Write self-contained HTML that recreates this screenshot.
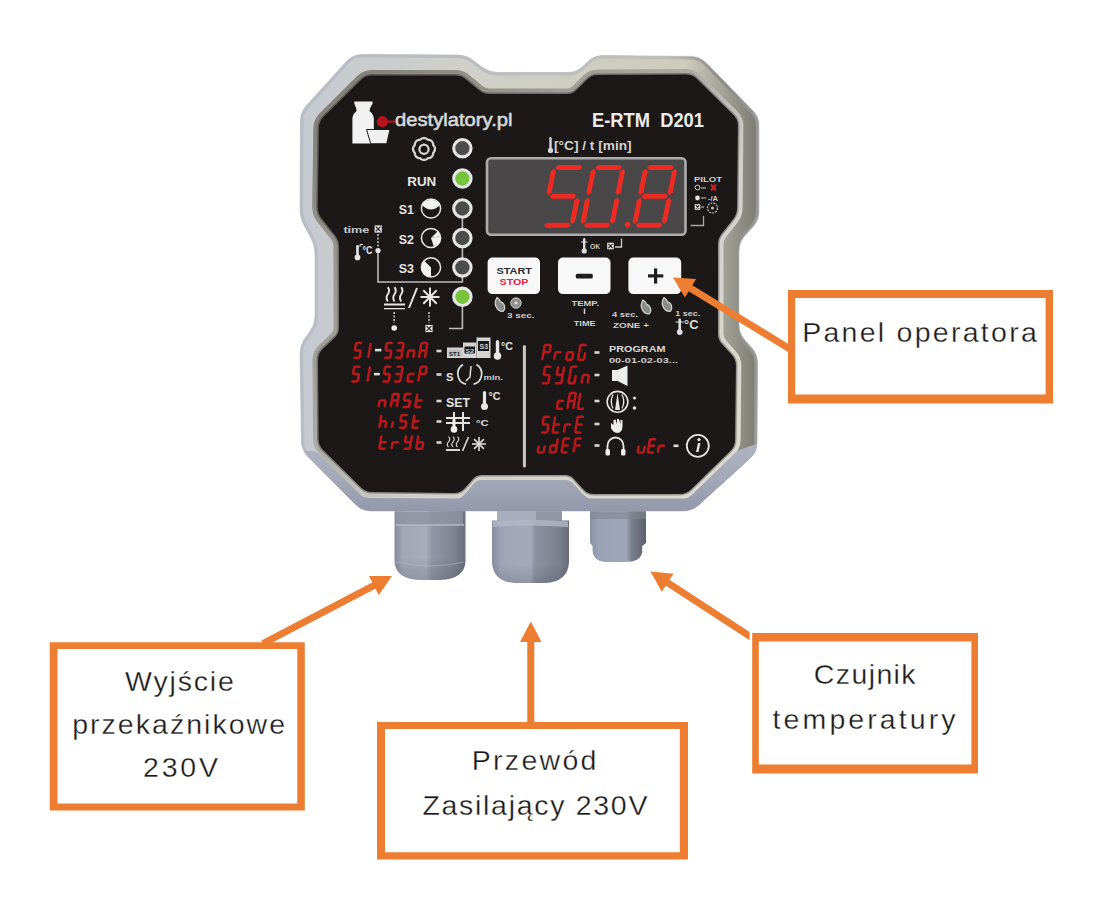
<!DOCTYPE html>
<html><head><meta charset="utf-8"><style>html,body{margin:0;padding:0;background:#fff;}svg{display:block;}</style></head>
<body><svg width="1100" height="897" viewBox="0 0 1100 897">
<rect x="0" y="0" width="1100" height="897" fill="#ffffff"/>
<defs><linearGradient id="gl1" x1="0" y1="0" x2="1" y2="0"><stop offset="0" stop-color="#868c9c"/><stop offset="0.12" stop-color="#a2a7b6"/><stop offset="0.45" stop-color="#a7acbb"/><stop offset="0.52" stop-color="#9197a6"/><stop offset="0.85" stop-color="#7f8391"/><stop offset="1" stop-color="#6a6e7b"/></linearGradient><linearGradient id="gl2" x1="0" y1="0" x2="1" y2="0"><stop offset="0" stop-color="#878d9e"/><stop offset="0.12" stop-color="#9fa5b6"/><stop offset="0.5" stop-color="#a4aabb"/><stop offset="0.56" stop-color="#8d92a2"/><stop offset="0.88" stop-color="#7b808e"/><stop offset="1" stop-color="#686c79"/></linearGradient><linearGradient id="gl3" x1="0" y1="0" x2="1" y2="0"><stop offset="0" stop-color="#8890a2"/><stop offset="0.15" stop-color="#9aa2b5"/><stop offset="0.65" stop-color="#9ea6b8"/><stop offset="0.74" stop-color="#7b808d"/><stop offset="1" stop-color="#5e616c"/></linearGradient><linearGradient id="gsh" x1="0" y1="0" x2="0" y2="1"><stop offset="0" stop-color="#000" stop-opacity="0"/><stop offset="0.7" stop-color="#000" stop-opacity="0"/><stop offset="1" stop-color="#000" stop-opacity="0.12"/></linearGradient></defs>
<path d="M394.5,505 L465.5,505 L465.5,561 Q465,579 440,580 L420,580 Q395,579 394.5,561 Z" fill="url(#gl1)"/>
<path d="M394.5,505 L465.5,505 L465.5,561 Q465,579 440,580 L420,580 Q395,579 394.5,561 Z" fill="url(#gsh)"/>
<path d="M397,512 L463,512 L463,525 L397,525 Z" fill="#8e93a2" opacity="0.8"/>
<path d="M396,525 L464,525" stroke="#b3b8c6" stroke-width="1.5"/>
<path d="M396,562 Q430,570 464,562" fill="none" stroke="#b0b5c3" stroke-width="1" opacity="0.6"/>
<rect x="497" y="505" width="65" height="20" fill="#a9aebd"/>
<rect x="536" y="505" width="26" height="20" fill="#9196a5"/>
<path d="M492,520.5 L569,520.5 L569,562 Q568,582 545,583 L515,583 Q493,582 492,562 Z" fill="url(#gl2)"/>
<path d="M492,520.5 L569,520.5 L569,562 Q568,582 545,583 L515,583 Q493,582 492,562 Z" fill="url(#gsh)"/>
<path d="M493,521.5 Q530,518 568,521.5 L568,527 Q530,524 493,527 Z" fill="#b3b8c7" opacity="0.8"/>
<path d="M590,505 L646,505 L646,543 L642.2,546 L642.2,552 Q641,562 625,562 L605,562 Q593,561 592.6,550 L592.6,546 L590,543 Z" fill="url(#gl3)"/>
<rect x="590" y="505" width="56" height="14" fill="#80858f" opacity="0.6"/>
<defs><linearGradient id="hg" gradientUnits="userSpaceOnUse" x1="300" y1="0" x2="758" y2="0"><stop offset="0" stop-color="#c6c9d1"/><stop offset="0.35" stop-color="#cfd0c8"/><stop offset="0.84" stop-color="#cdccbc"/><stop offset="0.92" stop-color="#a5a49a"/><stop offset="1" stop-color="#7c7b72"/></linearGradient><linearGradient id="rg" gradientUnits="userSpaceOnUse" x1="300" y1="0" x2="758" y2="0"><stop offset="0" stop-color="#b9bdc8"/><stop offset="0.8" stop-color="#c0c0b4"/><stop offset="0.92" stop-color="#8c8b82"/><stop offset="1" stop-color="#9a9a96"/></linearGradient><linearGradient id="bg2" x1="0" y1="0" x2="0" y2="1"><stop offset="0" stop-color="#a9aebd"/><stop offset="1" stop-color="#8a90a3"/></linearGradient><linearGradient id="bv" gradientUnits="userSpaceOnUse" x1="320" y1="75" x2="737" y2="492"><stop offset="0" stop-color="#7e7c72"/><stop offset="0.45" stop-color="#aeaca6"/><stop offset="0.62" stop-color="#d2d2cc"/><stop offset="1" stop-color="#dcdcd0"/></linearGradient><linearGradient id="bg3" x1="0" y1="0" x2="0" y2="1"><stop offset="0" stop-color="#b0b5c3"/><stop offset="0.5" stop-color="#a2a7b7"/><stop offset="1" stop-color="#8d93a5"/></linearGradient><clipPath id="hc"><path d="M300.5,121.0 Q300.5,112.0 306.6,105.4 L346.9,61.1 Q353.0,54.5 362.0,54.5 L457.0,55.0 Q466.0,55.0 473.2,60.4 L481.8,67.1 Q489.0,72.5 498.0,72.5 L568.0,72.5 Q577.0,72.5 583.4,66.1 L587.6,61.9 Q594.0,55.5 603.0,55.6 L691.0,56.4 Q700.0,56.5 706.3,62.9 L752.7,110.6 Q759.0,117.0 759.0,126.0 L759.0,211.0 Q759.0,220.0 752.9,226.7 L745.1,235.3 Q739.0,242.0 739.0,251.0 L739.0,325.0 Q739.0,334.0 745.1,340.6 L751.4,347.4 Q757.5,354.0 757.5,363.0 L757.0,443.0 Q757.0,452.0 750.3,458.0 L698.7,505.0 Q692.0,511.0 683.0,511.0 L371.0,511.0 Q362.0,511.0 355.7,504.6 L307.8,456.4 Q301.5,450.0 301.4,441.0 L300.1,354.0 Q300.0,345.0 305.4,337.8 L309.6,332.2 Q315.0,325.0 315.0,316.0 L315.0,254.0 Q315.0,245.0 310.6,237.1 L304.4,225.9 Q300.0,218.0 300.0,209.0 Z"/></clipPath></defs>
<path d="M300.5,121.0 Q300.5,112.0 306.6,105.4 L346.9,61.1 Q353.0,54.5 362.0,54.5 L457.0,55.0 Q466.0,55.0 473.2,60.4 L481.8,67.1 Q489.0,72.5 498.0,72.5 L568.0,72.5 Q577.0,72.5 583.4,66.1 L587.6,61.9 Q594.0,55.5 603.0,55.6 L691.0,56.4 Q700.0,56.5 706.3,62.9 L752.7,110.6 Q759.0,117.0 759.0,126.0 L759.0,211.0 Q759.0,220.0 752.9,226.7 L745.1,235.3 Q739.0,242.0 739.0,251.0 L739.0,325.0 Q739.0,334.0 745.1,340.6 L751.4,347.4 Q757.5,354.0 757.5,363.0 L757.0,443.0 Q757.0,452.0 750.3,458.0 L698.7,505.0 Q692.0,511.0 683.0,511.0 L371.0,511.0 Q362.0,511.0 355.7,504.6 L307.8,456.4 Q301.5,450.0 301.4,441.0 L300.1,354.0 Q300.0,345.0 305.4,337.8 L309.6,332.2 Q315.0,325.0 315.0,316.0 L315.0,254.0 Q315.0,245.0 310.6,237.1 L304.4,225.9 Q300.0,218.0 300.0,209.0 Z" fill="url(#hg)"/>
<path d="M300.5,121.0 Q300.5,112.0 306.6,105.4 L346.9,61.1 Q353.0,54.5 362.0,54.5 L457.0,55.0 Q466.0,55.0 473.2,60.4 L481.8,67.1 Q489.0,72.5 498.0,72.5 L568.0,72.5 Q577.0,72.5 583.4,66.1 L587.6,61.9 Q594.0,55.5 603.0,55.6 L691.0,56.4 Q700.0,56.5 706.3,62.9 L752.7,110.6 Q759.0,117.0 759.0,126.0 L759.0,211.0 Q759.0,220.0 752.9,226.7 L745.1,235.3 Q739.0,242.0 739.0,251.0 L739.0,325.0 Q739.0,334.0 745.1,340.6 L751.4,347.4 Q757.5,354.0 757.5,363.0 L757.0,443.0 Q757.0,452.0 750.3,458.0 L698.7,505.0 Q692.0,511.0 683.0,511.0 L371.0,511.0 Q362.0,511.0 355.7,504.6 L307.8,456.4 Q301.5,450.0 301.4,441.0 L300.1,354.0 Q300.0,345.0 305.4,337.8 L309.6,332.2 Q315.0,325.0 315.0,316.0 L315.0,254.0 Q315.0,245.0 310.6,237.1 L304.4,225.9 Q300.0,218.0 300.0,209.0 Z" fill="none" stroke="url(#rg)" stroke-width="6" clip-path="url(#hc)"/>
<polygon points="296,448 358,499 696,499 762,440 762,520 296,520" fill="url(#bg2)" clip-path="url(#hc)"/>
<path d="M300.5,121.0 Q300.5,112.0 306.6,105.4 L346.9,61.1 Q353.0,54.5 362.0,54.5 L457.0,55.0 Q466.0,55.0 473.2,60.4 L481.8,67.1 Q489.0,72.5 498.0,72.5 L568.0,72.5 Q577.0,72.5 583.4,66.1 L587.6,61.9 Q594.0,55.5 603.0,55.6 L691.0,56.4 Q700.0,56.5 706.3,62.9 L752.7,110.6 Q759.0,117.0 759.0,126.0 L759.0,211.0 Q759.0,220.0 752.9,226.7 L745.1,235.3 Q739.0,242.0 739.0,251.0 L739.0,325.0 Q739.0,334.0 745.1,340.6 L751.4,347.4 Q757.5,354.0 757.5,363.0 L757.0,443.0 Q757.0,452.0 750.3,458.0 L698.7,505.0 Q692.0,511.0 683.0,511.0 L371.0,511.0 Q362.0,511.0 355.7,504.6 L307.8,456.4 Q301.5,450.0 301.4,441.0 L300.1,354.0 Q300.0,345.0 305.4,337.8 L309.6,332.2 Q315.0,325.0 315.0,316.0 L315.0,254.0 Q315.0,245.0 310.6,237.1 L304.4,225.9 Q300.0,218.0 300.0,209.0 Z" fill="none" stroke="#b4b7bf" stroke-width="1" opacity="0.6"/>
<path d="M319.9,128.0 Q320.0,122.0 324.3,117.8 L361.7,80.7 Q366.0,76.5 372.0,76.5 L455.0,76.5 Q461.0,76.5 465.6,80.4 L478.4,91.1 Q483.0,95.0 489.0,95.0 L567.0,95.0 Q573.0,95.0 577.2,90.8 L587.8,80.2 Q592.0,76.0 598.0,76.0 L686.0,75.5 Q692.0,75.5 696.3,79.7 L732.7,115.8 Q737.0,120.0 736.9,126.0 L736.1,208.0 Q736.0,214.0 732.3,218.7 L720.7,233.3 Q717.0,238.0 717.0,244.0 L717.0,334.0 Q717.0,340.0 721.0,344.5 L731.0,355.5 Q735.0,360.0 734.9,366.0 L734.1,440.0 Q734.0,446.0 729.7,450.2 L690.3,488.8 Q686.0,493.0 680.0,493.0 L594.0,493.0 Q588.0,493.0 584.0,488.5 L575.0,478.5 Q571.0,474.0 565.0,474.0 L482.0,474.0 Q476.0,474.0 472.0,478.5 L464.0,487.5 Q460.0,492.0 454.0,491.9 L372.0,491.1 Q366.0,491.0 361.7,486.8 L323.9,449.2 Q319.6,445.0 319.6,439.0 L319.0,360.0 Q319.0,354.0 323.3,349.9 L335.7,338.1 Q340.0,334.0 340.0,328.0 L340.0,246.0 Q340.0,240.0 336.3,235.3 L322.3,217.7 Q318.6,213.0 318.7,207.0 Z" fill="url(#bv)" stroke="url(#bv)" stroke-width="13" stroke-linejoin="round"/>
<path d="M319.9,128.0 Q320.0,122.0 324.3,117.8 L361.7,80.7 Q366.0,76.5 372.0,76.5 L455.0,76.5 Q461.0,76.5 465.6,80.4 L478.4,91.1 Q483.0,95.0 489.0,95.0 L567.0,95.0 Q573.0,95.0 577.2,90.8 L587.8,80.2 Q592.0,76.0 598.0,76.0 L686.0,75.5 Q692.0,75.5 696.3,79.7 L732.7,115.8 Q737.0,120.0 736.9,126.0 L736.1,208.0 Q736.0,214.0 732.3,218.7 L720.7,233.3 Q717.0,238.0 717.0,244.0 L717.0,334.0 Q717.0,340.0 721.0,344.5 L731.0,355.5 Q735.0,360.0 734.9,366.0 L734.1,440.0 Q734.0,446.0 729.7,450.2 L690.3,488.8 Q686.0,493.0 680.0,493.0 L594.0,493.0 Q588.0,493.0 584.0,488.5 L575.0,478.5 Q571.0,474.0 565.0,474.0 L482.0,474.0 Q476.0,474.0 472.0,478.5 L464.0,487.5 Q460.0,492.0 454.0,491.9 L372.0,491.1 Q366.0,491.0 361.7,486.8 L323.9,449.2 Q319.6,445.0 319.6,439.0 L319.0,360.0 Q319.0,354.0 323.3,349.9 L335.7,338.1 Q340.0,334.0 340.0,328.0 L340.0,246.0 Q340.0,240.0 336.3,235.3 L322.3,217.7 Q318.6,213.0 318.7,207.0 Z" fill="none" stroke="#1b1817" stroke-width="5" stroke-linejoin="round" opacity="0.35"/>
<path d="M296.0,455.0 Q296.0,451.0 300.0,451.0 L312.0,451.0 Q316.0,451.0 318.9,453.8 L361.1,495.2 Q364.0,498.0 368.0,498.0 L457.0,498.5 Q461.0,498.5 463.6,495.5 L474.4,483.0 Q477.0,480.0 481.0,480.0 L566.0,480.0 Q570.0,480.0 572.7,482.9 L584.3,495.6 Q587.0,498.5 591.0,498.5 L684.0,498.5 Q688.0,498.5 690.9,495.7 L734.1,453.8 Q737.0,451.0 740.8,449.6 L758.2,443.4 Q762.0,442.0 762.0,446.0 L762.0,516.0 Q762.0,520.0 758.0,520.0 L300.0,520.0 Q296.0,520.0 296.0,516.0 Z" fill="url(#bg3)" clip-path="url(#hc)"/>
<path d="M319.9,128.0 Q320.0,122.0 324.3,117.8 L361.7,80.7 Q366.0,76.5 372.0,76.5 L455.0,76.5 Q461.0,76.5 465.6,80.4 L478.4,91.1 Q483.0,95.0 489.0,95.0 L567.0,95.0 Q573.0,95.0 577.2,90.8 L587.8,80.2 Q592.0,76.0 598.0,76.0 L686.0,75.5 Q692.0,75.5 696.3,79.7 L732.7,115.8 Q737.0,120.0 736.9,126.0 L736.1,208.0 Q736.0,214.0 732.3,218.7 L720.7,233.3 Q717.0,238.0 717.0,244.0 L717.0,334.0 Q717.0,340.0 721.0,344.5 L731.0,355.5 Q735.0,360.0 734.9,366.0 L734.1,440.0 Q734.0,446.0 729.7,450.2 L690.3,488.8 Q686.0,493.0 680.0,493.0 L594.0,493.0 Q588.0,493.0 584.0,488.5 L575.0,478.5 Q571.0,474.0 565.0,474.0 L482.0,474.0 Q476.0,474.0 472.0,478.5 L464.0,487.5 Q460.0,492.0 454.0,491.9 L372.0,491.1 Q366.0,491.0 361.7,486.8 L323.9,449.2 Q319.6,445.0 319.6,439.0 L319.0,360.0 Q319.0,354.0 323.3,349.9 L335.7,338.1 Q340.0,334.0 340.0,328.0 L340.0,246.0 Q340.0,240.0 336.3,235.3 L322.3,217.7 Q318.6,213.0 318.7,207.0 Z" fill="#1b1817" stroke="#1b1817" stroke-width="2" stroke-linejoin="round"/>
<path d="M354.2,101.5 L372.6,101.5 L372.4,104 Q369.5,108 369.5,111 Q373.8,114 373.8,119 L373.8,143.5 L352.4,143.5 L352.4,119 Q352.4,114 356.6,111 Q356.6,108 354.4,104 Z" fill="#f2f2f2"/>
<path d="M366.5,129.5 L390,129.5 L386.7,143.8 L370.8,143.8 Z" fill="#f0f0f0" stroke="#1b1817" stroke-width="1"/>
<line x1="383" y1="121.6" x2="395" y2="121.6" stroke="#b3141b" stroke-width="2.2"/>
<circle cx="382.4" cy="121.6" r="5.6" fill="#b3141b"/>
<text x="395" y="125.5" font-family="Liberation Sans" font-size="19" fill="#d8d8d8" font-weight="normal" font-style="normal" text-anchor="start" textLength="117.5" lengthAdjust="spacingAndGlyphs" stroke="#d8d8d8" stroke-width="0.6">destylatory.pl</text>
<text x="592" y="126.7" font-family="Liberation Sans" font-size="19.5" fill="#ececec" font-weight="bold" font-style="normal" text-anchor="start" textLength="112" lengthAdjust="spacingAndGlyphs" >E-RTM&#160;&#160;D201</text>
<g fill="none" stroke="#d8d8d8" stroke-width="2.2"><polygon points="435.00,149.00 434.94,149.72 434.77,150.42 434.50,151.09 434.14,151.72 433.71,152.30 433.24,152.83 433.20,153.54 433.09,154.25 432.90,154.95 432.62,155.61 432.24,156.23 431.78,156.78 431.23,157.24 430.61,157.62 429.95,157.90 429.25,158.09 428.54,158.20 427.83,158.24 427.30,158.71 426.72,159.14 426.09,159.50 425.42,159.77 424.72,159.94 424.00,160.00 423.28,159.94 422.58,159.77 421.91,159.50 421.28,159.14 420.70,158.71 420.17,158.24 419.46,158.20 418.75,158.09 418.05,157.90 417.39,157.62 416.77,157.24 416.22,156.78 415.76,156.23 415.38,155.61 415.10,154.95 414.91,154.25 414.80,153.54 414.76,152.83 414.29,152.30 413.86,151.72 413.50,151.09 413.23,150.42 413.06,149.72 413.00,149.00 413.06,148.28 413.23,147.58 413.50,146.91 413.86,146.28 414.29,145.70 414.76,145.17 414.80,144.46 414.91,143.75 415.10,143.05 415.38,142.39 415.76,141.77 416.22,141.22 416.77,140.76 417.39,140.38 418.05,140.10 418.75,139.91 419.46,139.80 420.17,139.76 420.70,139.29 421.28,138.86 421.91,138.50 422.58,138.23 423.28,138.06 424.00,138.00 424.72,138.06 425.42,138.23 426.09,138.50 426.72,138.86 427.30,139.29 427.83,139.76 428.54,139.80 429.25,139.91 429.95,140.10 430.61,140.38 431.23,140.76 431.78,141.22 432.24,141.77 432.62,142.39 432.90,143.05 433.09,143.75 433.20,144.46 433.24,145.17 433.71,145.70 434.14,146.28 434.50,146.91 434.77,147.58 434.94,148.28"/><circle cx="424" cy="149.2" r="4.6"/></g>
<circle cx="424" cy="149.2" r="1.6" fill="#111"/>
<g stroke="#bdbdbd" stroke-width="1.6" fill="none"><polyline points="462.4,210 462.4,282 378,282 378,250"/><polyline points="462.4,300 462.4,328.5 449,328.5"/><line x1="378" y1="234" x2="378" y2="247" stroke-dasharray="2 1.5"/><line x1="394.2" y1="312" x2="394.2" y2="323" stroke-dasharray="2 1.5"/><line x1="429" y1="312" x2="429" y2="323" stroke-dasharray="2 1.5"/></g>
<circle cx="462.4" cy="148.2" r="8.7" fill="#4c4c4c" stroke="#e6e6e6" stroke-width="3.1"/>
<circle cx="462.4" cy="178.5" r="8.7" fill="#76c43a" stroke="#e6e6e6" stroke-width="3.1"/>
<circle cx="462.4" cy="208.5" r="8.7" fill="#4c4c4c" stroke="#e6e6e6" stroke-width="3.1"/>
<circle cx="462.4" cy="238" r="8.7" fill="#4c4c4c" stroke="#e6e6e6" stroke-width="3.1"/>
<circle cx="462.4" cy="267.4" r="8.7" fill="#4c4c4c" stroke="#e6e6e6" stroke-width="3.1"/>
<circle cx="462.4" cy="296.8" r="8.7" fill="#76c43a" stroke="#e6e6e6" stroke-width="3.1"/>
<text x="407.3" y="186.4" font-family="Liberation Sans" font-size="12.5" fill="#e6e6e6" font-weight="bold" font-style="normal" text-anchor="start" textLength="29" lengthAdjust="spacingAndGlyphs" >RUN</text>
<text x="398.7" y="214" font-family="Liberation Sans" font-size="13" fill="#e6e6e6" font-weight="bold" font-style="normal" text-anchor="start" textLength="15.2" lengthAdjust="spacingAndGlyphs" >S1</text>
<text x="398.7" y="243.5" font-family="Liberation Sans" font-size="13" fill="#e6e6e6" font-weight="bold" font-style="normal" text-anchor="start" textLength="15.2" lengthAdjust="spacingAndGlyphs" >S2</text>
<text x="398.7" y="273" font-family="Liberation Sans" font-size="13" fill="#e6e6e6" font-weight="bold" font-style="normal" text-anchor="start" textLength="15.2" lengthAdjust="spacingAndGlyphs" >S3</text>
<circle cx="431" cy="208.5" r="9.6" fill="none" stroke="#e6e6e6" stroke-width="1.5"/>
<path d="M421.8,206 L431,200 L440.2,206 Q431,203 421.8,206 Z" fill="#f0f0f0"/><path d="M422,205 Q431,214 440,205 L440,203 L431,199 L422,203 Z" fill="#f0f0f0"/>
<circle cx="431" cy="238" r="9.6" fill="none" stroke="#e6e6e6" stroke-width="1.5"/>
<path d="M431,238 L440.6,236 A9.6,9.6 0 0 1 434,247.2 Z" fill="#f0f0f0"/><path d="M431,238 L440.6,236 L438,231 Z" fill="#f0f0f0"/>
<circle cx="431" cy="267.4" r="9.6" fill="none" stroke="#e6e6e6" stroke-width="1.5"/>
<path d="M431,267.4 L424,260.6 A9.6,9.6 0 0 0 431,277 Z" fill="#f0f0f0"/>
<text x="343.4" y="232.6" font-family="Liberation Sans" font-size="9.5" fill="#c8c8c8" font-weight="bold" font-style="normal" text-anchor="start" textLength="26" lengthAdjust="spacingAndGlyphs" >time</text>
<rect x="374.59999999999997" y="225.4" width="7.2" height="7.2" fill="#e6e6e6"/><path d="M375.79999999999995,226.6 L380.6,231.4 M380.6,226.6 L375.79999999999995,231.4" stroke="#1b1817" stroke-width="1.1"/>
<rect x="356.2" y="245" width="2.6" height="12" rx="1.3" fill="#e6e6e6"/><circle cx="357.5" cy="257.4" r="2.8600000000000003" fill="#e6e6e6"/>
<polyline points="360,247 360,244.5 363,244.5" fill="none" stroke="#e6e6e6" stroke-width="1"/>
<text x="362.5" y="253.5" font-family="Liberation Sans" font-size="10.5" fill="#e6e6e6" font-weight="bold" font-style="normal" text-anchor="start" textLength="10" lengthAdjust="spacingAndGlyphs" >°C</text>
<circle cx="378" cy="250.5" r="2.6" fill="#eeeeee"/>
<path d="M387.8,301.5 q-2.5,-3.6 0,-7.2 q2.5,-3.6 0,-7.2" fill="none" stroke="#e6e6e6" stroke-width="1.9"/><path d="M394.5,301.5 q-2.5,-3.6 0,-7.2 q2.5,-3.6 0,-7.2" fill="none" stroke="#e6e6e6" stroke-width="1.9"/><path d="M401.2,301.5 q-2.5,-3.6 0,-7.2 q2.5,-3.6 0,-7.2" fill="none" stroke="#e6e6e6" stroke-width="1.9"/><rect x="384" y="303.5" width="21" height="2" fill="#e6e6e6"/>
<rect x="384" y="308" width="21" height="1.3" fill="#e6e6e6"/>
<line x1="417" y1="288" x2="409" y2="308" stroke="#e6e6e6" stroke-width="2"/>
<g stroke="#e6e6e6" stroke-width="2"><line x1="420.5" y1="297.0" x2="439.5" y2="297.0"/><line x1="423.3" y1="290.3" x2="436.7" y2="303.7"/><line x1="430.0" y1="287.5" x2="430.0" y2="306.5"/><line x1="436.7" y1="290.3" x2="423.3" y2="303.7"/></g>
<circle cx="394.2" cy="328" r="2.8" fill="#eeeeee"/>
<rect x="425.4" y="324.9" width="7.2" height="7.2" fill="#e6e6e6"/><path d="M426.59999999999997,326.09999999999997 L431.40000000000003,330.90000000000003 M431.40000000000003,326.09999999999997 L426.59999999999997,330.90000000000003" stroke="#1b1817" stroke-width="1.1"/>
<rect x="487" y="158.3" width="198.5" height="76.4" rx="4" fill="#4a4748" stroke="#aeacaa" stroke-width="2.6"/>
<g fill="#ee2a22"><polygon points="555.4399999999999,167.5 558.4399999999999,165.0 580.14,165.0 582.14,167.5 579.14,170.0 557.4399999999999,170.0"/><polygon points="548.63,195.04999999999998 551.63,192.54999999999998 555.88,171.29999999999998 553.88,168.79999999999998 550.88,171.29999999999998 546.63,192.54999999999998"/><polygon points="549.67,196.35 552.67,193.85 574.37,193.85 576.37,196.35 573.37,198.85 551.67,198.85"/><polygon points="572.16,223.89999999999998 575.16,221.39999999999998 579.41,200.14999999999998 577.41,197.64999999999998 574.41,200.14999999999998 570.16,221.39999999999998"/><polygon points="543.9,225.2 546.9,222.7 568.6,222.7 570.6,225.2 567.6,227.7 545.9,227.7"/></g>
<g fill="#ee2a22"><polygon points="595.2399999999999,167.5 598.2399999999999,165.0 619.9399999999999,165.0 621.9399999999999,167.5 618.9399999999999,170.0 597.2399999999999,170.0"/><polygon points="617.7299999999999,195.04999999999998 620.7299999999999,192.54999999999998 624.9799999999999,171.29999999999998 622.9799999999999,168.79999999999998 619.9799999999999,171.29999999999998 615.7299999999999,192.54999999999998"/><polygon points="611.9599999999999,223.89999999999998 614.9599999999999,221.39999999999998 619.2099999999999,200.14999999999998 617.2099999999999,197.64999999999998 614.2099999999999,200.14999999999998 609.9599999999999,221.39999999999998"/><polygon points="583.6999999999999,225.2 586.6999999999999,222.7 608.4,222.7 610.4,225.2 607.4,227.7 585.6999999999999,227.7"/><polygon points="582.66,223.89999999999998 585.66,221.39999999999998 589.91,200.14999999999998 587.91,197.64999999999998 584.91,200.14999999999998 580.66,221.39999999999998"/><polygon points="588.43,195.04999999999998 591.43,192.54999999999998 595.68,171.29999999999998 593.68,168.79999999999998 590.68,171.29999999999998 586.43,192.54999999999998"/></g>
<g fill="#ee2a22"><polygon points="647.2399999999999,167.5 650.2399999999999,165.0 671.9399999999999,165.0 673.9399999999999,167.5 670.9399999999999,170.0 649.2399999999999,170.0"/><polygon points="669.7299999999999,195.04999999999998 672.7299999999999,192.54999999999998 676.9799999999999,171.29999999999998 674.9799999999999,168.79999999999998 671.9799999999999,171.29999999999998 667.7299999999999,192.54999999999998"/><polygon points="663.9599999999999,223.89999999999998 666.9599999999999,221.39999999999998 671.2099999999999,200.14999999999998 669.2099999999999,197.64999999999998 666.2099999999999,200.14999999999998 661.9599999999999,221.39999999999998"/><polygon points="635.6999999999999,225.2 638.6999999999999,222.7 660.4,222.7 662.4,225.2 659.4,227.7 637.6999999999999,227.7"/><polygon points="634.66,223.89999999999998 637.66,221.39999999999998 641.91,200.14999999999998 639.91,197.64999999999998 636.91,200.14999999999998 632.66,221.39999999999998"/><polygon points="640.43,195.04999999999998 643.43,192.54999999999998 647.68,171.29999999999998 645.68,168.79999999999998 642.68,171.29999999999998 638.43,192.54999999999998"/><polygon points="641.4699999999999,196.35 644.4699999999999,193.85 666.17,193.85 668.17,196.35 665.17,198.85 643.4699999999999,198.85"/></g>
<circle cx="627.6" cy="224.6" r="2.9" fill="#ee2a22"/>
<rect x="549.3" y="137" width="2.4" height="13" rx="1.2" fill="#d6d6d6"/><circle cx="550.5" cy="150.4" r="2.64" fill="#d6d6d6"/>
<text x="554" y="150" font-family="Liberation Sans" font-size="12" fill="#d2d2d2" font-weight="bold" font-style="normal" text-anchor="start" textLength="77.6" lengthAdjust="spacingAndGlyphs" >[°C] / t [min]</text>
<text x="694" y="182" font-family="Liberation Sans" font-size="8" fill="#d2d2d2" font-weight="bold" font-style="normal" text-anchor="start" textLength="28" lengthAdjust="spacingAndGlyphs" >PILOT</text>
<circle cx="697.5" cy="187.5" r="2.4" fill="none" stroke="#cfcfcf" stroke-width="1"/><line x1="701" y1="188" x2="706" y2="188" stroke="#cfcfcf" stroke-width="1"/>
<path d="M711,184.5 L716,190.5 M716,184.5 L711,190.5" stroke="#d61e1e" stroke-width="2"/>
<circle cx="697.5" cy="198" r="2.4" fill="#e6e6e6"/><line x1="701" y1="198" x2="706" y2="198" stroke="#cfcfcf" stroke-width="1"/>
<text x="708" y="200.5" font-family="Liberation Sans" font-size="7" fill="#cfcfcf" font-weight="bold" font-style="normal" text-anchor="start" textLength="10" lengthAdjust="spacingAndGlyphs" >-/A</text>
<rect x="694.7" y="204.2" width="5.6" height="5.6" fill="#e6e6e6"/><path d="M695.9000000000001,205.39999999999998 L699.0999999999999,208.60000000000002 M699.0999999999999,205.39999999999998 L695.9000000000001,208.60000000000002" stroke="#1b1817" stroke-width="1.1"/>
<line x1="701" y1="207" x2="704" y2="207" stroke="#cfcfcf" stroke-width="1"/>
<circle cx="712.5" cy="208" r="5" fill="none" stroke="#bdbdbd" stroke-width="1.2" stroke-dasharray="2 1"/><circle cx="712.5" cy="208" r="1.6" fill="#bdbdbd"/>
<polyline points="703.5,216 703.5,225.5 690.5,225.5" fill="none" stroke="#a8a8a8" stroke-width="1.3"/>
<rect x="583.0" y="238" width="2.4" height="12.5" rx="1.2" fill="#dcdcdc"/><circle cx="584.2" cy="250.9" r="2.64" fill="#dcdcdc"/>
<line x1="581" y1="242" x2="587.5" y2="242" stroke="#dcdcdc" stroke-width="1"/>
<text x="590" y="248.5" font-family="Liberation Sans" font-size="7.5" fill="#cfcfcf" font-weight="bold" font-style="normal" text-anchor="start" textLength="10" lengthAdjust="spacingAndGlyphs" >OK</text>
<rect x="607.2" y="242.7" width="6.6" height="6.6" fill="#e6e6e6"/><path d="M608.4000000000001,243.89999999999998 L612.5999999999999,248.10000000000002 M612.5999999999999,243.89999999999998 L608.4000000000001,248.10000000000002" stroke="#1b1817" stroke-width="1.1"/>
<polyline points="615,247 621.5,247 621.5,238.5" fill="none" stroke="#cfcfcf" stroke-width="1.3"/>
<rect x="487.6" y="257.5" width="52.39999999999998" height="36.6" rx="5" fill="#f8f8f8"/>
<rect x="558" y="257.5" width="52.5" height="36.6" rx="5" fill="#f8f8f8"/>
<rect x="628.4" y="257.5" width="52.80000000000007" height="36.6" rx="5" fill="#f8f8f8"/>
<text x="496.4" y="273.8" font-family="Liberation Sans" font-size="9.5" fill="#2a2a2a" font-weight="bold" font-style="normal" text-anchor="start" textLength="35.6" lengthAdjust="spacingAndGlyphs" >START</text>
<text x="499.6" y="284.7" font-family="Liberation Sans" font-size="9.5" fill="#e3203c" font-weight="bold" font-style="normal" text-anchor="start" textLength="28.8" lengthAdjust="spacingAndGlyphs" >STOP</text>
<rect x="575.8" y="273.7" width="17" height="4.8" rx="1.5" fill="#1e1e1e"/>
<rect x="648" y="274.3" width="15.3" height="3.2" fill="#1e1e1e"/><rect x="654" y="268.4" width="3.2" height="15.2" fill="#1e1e1e"/>
<path d="M497,297.5 q-3,5 -1,9 q2,5 7,5 q3,-3 1,-7 q-2,-3 -3,-2 q-1,-3 -4,-5 z" fill="#8a8a8a" stroke="#d6d6d6" stroke-width="1.2"/>
<circle cx="516" cy="303" r="5.2" fill="#8f8f8f" stroke="#c8c8c8" stroke-width="1"/><circle cx="516" cy="303" r="1.6" fill="#e0e0e0"/>
<text x="507" y="318.4" font-family="Liberation Sans" font-size="8" fill="#cfcfcf" font-weight="bold" font-style="normal" text-anchor="start" textLength="27.5" lengthAdjust="spacingAndGlyphs" >3 sec.</text>
<text x="571.6" y="306.4" font-family="Liberation Sans" font-size="8" fill="#cfcfcf" font-weight="bold" font-style="normal" text-anchor="start" textLength="27.4" lengthAdjust="spacingAndGlyphs" >TEMP.</text>
<line x1="584.5" y1="308.5" x2="584.5" y2="314" stroke="#cfcfcf" stroke-width="1.5"/>
<text x="573.8" y="326" font-family="Liberation Sans" font-size="8" fill="#cfcfcf" font-weight="bold" font-style="normal" text-anchor="start" textLength="21.8" lengthAdjust="spacingAndGlyphs" >TIME</text>
<text x="612" y="317.3" font-family="Liberation Sans" font-size="8" fill="#cfcfcf" font-weight="bold" font-style="normal" text-anchor="start" textLength="26" lengthAdjust="spacingAndGlyphs" >4 sec.</text>
<path d="M643,300 q-3,5 -1,9 q2,5 7,5 q3,-3 1,-7 q-2,-3 -3,-2 q-1,-3 -4,-5 z" fill="#8a8a8a" stroke="#d6d6d6" stroke-width="1.2"/>
<text x="613" y="328.2" font-family="Liberation Sans" font-size="8" fill="#cfcfcf" font-weight="bold" font-style="normal" text-anchor="start" textLength="36" lengthAdjust="spacingAndGlyphs" >ZONE +</text>
<path d="M664,297.5 q-3,5 -1,9 q2,5 7,5 q3,-3 1,-7 q-2,-3 -3,-2 q-1,-3 -4,-5 z" fill="#8a8a8a" stroke="#d6d6d6" stroke-width="1.2"/>
<text x="675.3" y="316.2" font-family="Liberation Sans" font-size="8" fill="#cfcfcf" font-weight="bold" font-style="normal" text-anchor="start" textLength="25" lengthAdjust="spacingAndGlyphs" >1 sec.</text>
<rect x="678.4000000000001" y="318.4" width="2.6" height="13.300000000000011" rx="1.3" fill="#e0e0e0"/><circle cx="679.7" cy="332.09999999999997" r="2.8600000000000003" fill="#e0e0e0"/>
<line x1="675.5" y1="322" x2="684" y2="322" stroke="#e0e0e0" stroke-width="1"/>
<text x="684" y="329.3" font-family="Liberation Sans" font-size="12" fill="#dcdcdc" font-weight="bold" font-style="normal" text-anchor="start" textLength="14.5" lengthAdjust="spacingAndGlyphs" >°C</text>
<line x1="524.4" y1="346.5" x2="524.4" y2="466" stroke="#c8c8c8" stroke-width="3" stroke-linecap="round"/>
<g stroke="#b9181d" stroke-width="2.5" stroke-linecap="round"><line x1="356.9" y1="343.1" x2="361.1" y2="343.1"/><line x1="355.0" y1="349.5" x2="355.9" y2="343.9"/><line x1="355.7" y1="350.4" x2="359.9" y2="350.4"/><line x1="359.7" y1="356.9" x2="360.6" y2="351.3"/><line x1="354.4" y1="357.8" x2="358.7" y2="357.8"/></g><g stroke="#b9181d" stroke-width="2.5" stroke-linecap="round"><line x1="369.7" y1="349.5" x2="370.6" y2="343.9"/><line x1="368.4" y1="356.9" x2="369.3" y2="351.3"/></g><g stroke="#b9181d" stroke-width="2.5" stroke-linecap="round"><line x1="387.6" y1="343.1" x2="391.8" y2="343.1"/><line x1="385.7" y1="349.5" x2="386.6" y2="343.9"/><line x1="386.4" y1="350.4" x2="390.6" y2="350.4"/><line x1="390.4" y1="356.9" x2="391.3" y2="351.3"/><line x1="385.1" y1="357.8" x2="389.4" y2="357.8"/></g><g stroke="#b9181d" stroke-width="2.5" stroke-linecap="round"><line x1="398.6" y1="343.1" x2="402.8" y2="343.1"/><line x1="402.7" y1="349.5" x2="403.6" y2="343.9"/><line x1="397.4" y1="350.4" x2="401.6" y2="350.4"/><line x1="401.4" y1="356.9" x2="402.3" y2="351.3"/><line x1="396.1" y1="357.8" x2="400.4" y2="357.8"/></g><g stroke="#b9181d" stroke-width="2.5" stroke-linecap="round"><line x1="413.4" y1="356.9" x2="414.3" y2="351.3"/><line x1="407.4" y1="356.9" x2="408.3" y2="351.3"/><line x1="409.4" y1="350.4" x2="413.6" y2="350.4"/></g><g stroke="#b9181d" stroke-width="2.5" stroke-linecap="round"><line x1="422.3" y1="343.1" x2="426.5" y2="343.1"/><line x1="426.4" y1="349.5" x2="427.3" y2="343.9"/><line x1="425.1" y1="356.9" x2="426.0" y2="351.3"/><line x1="419.1" y1="356.9" x2="420.0" y2="351.3"/><line x1="420.4" y1="349.5" x2="421.3" y2="343.9"/><line x1="421.1" y1="350.4" x2="425.3" y2="350.4"/></g>
<rect x="375" y="348.8" width="6.4" height="2.6" fill="#dddddd"/>
<g stroke="#b9181d" stroke-width="2.5" stroke-linecap="round"><line x1="355.1" y1="366.8" x2="359.3" y2="366.8"/><line x1="353.2" y1="373.2" x2="354.1" y2="367.6"/><line x1="353.9" y1="374.1" x2="358.1" y2="374.1"/><line x1="357.9" y1="380.6" x2="358.8" y2="375.0"/><line x1="352.6" y1="381.4" x2="356.9" y2="381.4"/></g><g stroke="#b9181d" stroke-width="2.5" stroke-linecap="round"><line x1="368.9" y1="373.2" x2="369.8" y2="367.6"/><line x1="367.6" y1="380.6" x2="368.5" y2="375.0"/></g><g stroke="#b9181d" stroke-width="2.5" stroke-linecap="round"><line x1="386.0" y1="366.8" x2="390.2" y2="366.8"/><line x1="384.1" y1="373.2" x2="385.0" y2="367.6"/><line x1="384.8" y1="374.1" x2="389.0" y2="374.1"/><line x1="388.8" y1="380.6" x2="389.7" y2="375.0"/><line x1="383.5" y1="381.4" x2="387.8" y2="381.4"/></g><g stroke="#b9181d" stroke-width="2.5" stroke-linecap="round"><line x1="397.6" y1="366.8" x2="401.8" y2="366.8"/><line x1="401.7" y1="373.2" x2="402.6" y2="367.6"/><line x1="396.4" y1="374.1" x2="400.6" y2="374.1"/><line x1="400.4" y1="380.6" x2="401.3" y2="375.0"/><line x1="395.1" y1="381.4" x2="399.4" y2="381.4"/></g><g stroke="#b9181d" stroke-width="2.5" stroke-linecap="round"><line x1="409.4" y1="374.1" x2="413.6" y2="374.1"/><line x1="407.4" y1="380.6" x2="408.3" y2="375.0"/><line x1="408.1" y1="381.4" x2="412.4" y2="381.4"/></g><g stroke="#b9181d" stroke-width="2.5" stroke-linecap="round"><line x1="421.6" y1="366.8" x2="425.8" y2="366.8"/><line x1="425.7" y1="373.2" x2="426.6" y2="367.6"/><line x1="418.4" y1="380.6" x2="419.3" y2="375.0"/><line x1="419.7" y1="373.2" x2="420.6" y2="367.6"/><line x1="420.4" y1="374.1" x2="424.6" y2="374.1"/></g>
<rect x="374" y="372.8" width="5.8" height="2.6" fill="#dddddd"/>
<g stroke="#b9181d" stroke-width="2.5" stroke-linecap="round"><line x1="384.7" y1="406.1" x2="385.5" y2="401.3"/><line x1="378.7" y1="406.1" x2="379.5" y2="401.3"/><line x1="380.6" y1="400.4" x2="384.8" y2="400.4"/></g><g stroke="#b9181d" stroke-width="2.5" stroke-linecap="round"><line x1="393.9" y1="393.9" x2="398.1" y2="393.9"/><line x1="398.0" y1="399.6" x2="398.8" y2="394.8"/><line x1="396.9" y1="406.1" x2="397.7" y2="401.3"/><line x1="390.9" y1="406.1" x2="391.7" y2="401.3"/><line x1="392.0" y1="399.6" x2="392.8" y2="394.8"/><line x1="392.8" y1="400.4" x2="397.0" y2="400.4"/></g><g stroke="#b9181d" stroke-width="2.5" stroke-linecap="round"><line x1="406.1" y1="393.9" x2="410.3" y2="393.9"/><line x1="404.2" y1="399.6" x2="405.0" y2="394.8"/><line x1="405.0" y1="400.4" x2="409.2" y2="400.4"/><line x1="409.1" y1="406.1" x2="409.9" y2="401.3"/><line x1="403.8" y1="406.9" x2="408.1" y2="406.9"/></g><g stroke="#b9181d" stroke-width="2.5" stroke-linecap="round"><line x1="416.4" y1="399.6" x2="417.2" y2="394.8"/><line x1="417.2" y1="400.4" x2="421.4" y2="400.4"/><line x1="415.3" y1="406.1" x2="416.1" y2="401.3"/><line x1="416.0" y1="406.9" x2="420.2" y2="406.9"/></g>
<g stroke="#b9181d" stroke-width="2.5" stroke-linecap="round"><line x1="380.5" y1="420.4" x2="381.3" y2="415.8"/><line x1="379.4" y1="426.9" x2="380.2" y2="422.2"/><line x1="381.2" y1="421.3" x2="385.4" y2="421.3"/><line x1="385.4" y1="426.9" x2="386.2" y2="422.2"/></g><g stroke="#b9181d" stroke-width="2.5" stroke-linecap="round"><line x1="391.9" y1="426.9" x2="392.7" y2="422.2"/></g><g stroke="#b9181d" stroke-width="2.5" stroke-linecap="round"><line x1="402.3" y1="414.9" x2="406.5" y2="414.9"/><line x1="400.5" y1="420.4" x2="401.3" y2="415.8"/><line x1="401.2" y1="421.3" x2="405.4" y2="421.3"/><line x1="405.4" y1="426.9" x2="406.2" y2="422.2"/><line x1="400.1" y1="427.8" x2="404.4" y2="427.8"/></g><g stroke="#b9181d" stroke-width="2.5" stroke-linecap="round"><line x1="413.5" y1="420.4" x2="414.3" y2="415.8"/><line x1="414.2" y1="421.3" x2="418.4" y2="421.3"/><line x1="412.4" y1="426.9" x2="413.2" y2="422.2"/><line x1="413.1" y1="427.8" x2="417.4" y2="427.8"/></g>
<g stroke="#b9181d" stroke-width="2.5" stroke-linecap="round"><line x1="380.5" y1="441.4" x2="381.3" y2="436.6"/><line x1="381.3" y1="442.2" x2="385.5" y2="442.2"/><line x1="379.4" y1="447.9" x2="380.2" y2="443.1"/><line x1="380.1" y1="448.8" x2="384.4" y2="448.8"/></g><g stroke="#b9181d" stroke-width="2.5" stroke-linecap="round"><line x1="391.7" y1="447.9" x2="392.5" y2="443.1"/><line x1="393.6" y1="442.2" x2="397.8" y2="442.2"/></g><g stroke="#b9181d" stroke-width="2.5" stroke-linecap="round"><line x1="405.1" y1="441.4" x2="405.9" y2="436.6"/><line x1="411.1" y1="441.4" x2="411.9" y2="436.6"/><line x1="405.9" y1="442.2" x2="410.1" y2="442.2"/><line x1="410.0" y1="447.9" x2="410.8" y2="443.1"/><line x1="404.8" y1="448.8" x2="409.0" y2="448.8"/></g><g stroke="#b9181d" stroke-width="2.5" stroke-linecap="round"><line x1="417.4" y1="441.4" x2="418.2" y2="436.6"/><line x1="416.3" y1="447.9" x2="417.1" y2="443.1"/><line x1="417.1" y1="448.8" x2="421.3" y2="448.8"/><line x1="422.3" y1="447.9" x2="423.1" y2="443.1"/><line x1="418.2" y1="442.2" x2="422.4" y2="442.2"/></g>
<g stroke="#b9181d" stroke-width="2.5" stroke-linecap="round"><line x1="545.7" y1="344.9" x2="549.9" y2="344.9"/><line x1="549.7" y1="351.4" x2="550.6" y2="345.8"/><line x1="542.4" y1="358.9" x2="543.4" y2="353.2"/><line x1="543.7" y1="351.4" x2="544.6" y2="345.8"/><line x1="544.4" y1="352.3" x2="548.6" y2="352.3"/></g><g stroke="#b9181d" stroke-width="2.5" stroke-linecap="round"><line x1="554.3" y1="358.9" x2="555.3" y2="353.2"/><line x1="556.3" y1="352.3" x2="560.5" y2="352.3"/></g><g stroke="#b9181d" stroke-width="2.5" stroke-linecap="round"><line x1="572.2" y1="358.9" x2="573.2" y2="353.2"/><line x1="566.9" y1="359.8" x2="571.1" y2="359.8"/><line x1="566.2" y1="358.9" x2="567.2" y2="353.2"/><line x1="568.2" y1="352.3" x2="572.4" y2="352.3"/></g><g stroke="#b9181d" stroke-width="2.5" stroke-linecap="round"><line x1="581.4" y1="344.9" x2="585.6" y2="344.9"/><line x1="579.4" y1="351.4" x2="580.3" y2="345.8"/><line x1="578.1" y1="358.9" x2="579.1" y2="353.2"/><line x1="578.8" y1="359.8" x2="583.0" y2="359.8"/><line x1="584.1" y1="358.9" x2="585.1" y2="353.2"/></g>
<g stroke="#b9181d" stroke-width="2.5" stroke-linecap="round"><line x1="546.0" y1="366.8" x2="550.2" y2="366.8"/><line x1="543.8" y1="374.1" x2="544.9" y2="367.6"/><line x1="544.6" y1="375.0" x2="548.8" y2="375.0"/><line x1="548.4" y1="382.4" x2="549.5" y2="375.9"/><line x1="543.1" y1="383.2" x2="547.4" y2="383.2"/></g><g stroke="#b9181d" stroke-width="2.5" stroke-linecap="round"><line x1="556.9" y1="374.1" x2="558.0" y2="367.6"/><line x1="562.9" y1="374.1" x2="564.0" y2="367.6"/><line x1="557.7" y1="375.0" x2="561.9" y2="375.0"/><line x1="561.5" y1="382.4" x2="562.6" y2="375.9"/><line x1="556.2" y1="383.2" x2="560.5" y2="383.2"/></g><g stroke="#b9181d" stroke-width="2.5" stroke-linecap="round"><line x1="572.2" y1="366.8" x2="576.4" y2="366.8"/><line x1="570.0" y1="374.1" x2="571.1" y2="367.6"/><line x1="568.6" y1="382.4" x2="569.7" y2="375.9"/><line x1="569.4" y1="383.2" x2="573.6" y2="383.2"/><line x1="574.6" y1="382.4" x2="575.7" y2="375.9"/></g><g stroke="#b9181d" stroke-width="2.5" stroke-linecap="round"><line x1="587.7" y1="382.4" x2="588.8" y2="375.9"/><line x1="581.7" y1="382.4" x2="582.8" y2="375.9"/><line x1="583.9" y1="375.0" x2="588.1" y2="375.0"/></g>
<g stroke="#b9181d" stroke-width="2.5" stroke-linecap="round"><line x1="559.0" y1="400.9" x2="563.2" y2="400.9"/><line x1="556.9" y1="407.9" x2="557.9" y2="401.8"/><line x1="557.6" y1="408.8" x2="561.9" y2="408.8"/></g><g stroke="#b9181d" stroke-width="2.5" stroke-linecap="round"><line x1="570.8" y1="393.1" x2="575.0" y2="393.1"/><line x1="574.7" y1="400.0" x2="575.8" y2="393.9"/><line x1="573.4" y1="407.9" x2="574.4" y2="401.8"/><line x1="567.4" y1="407.9" x2="568.4" y2="401.8"/><line x1="568.7" y1="400.0" x2="569.8" y2="393.9"/><line x1="569.5" y1="400.9" x2="573.7" y2="400.9"/></g><g stroke="#b9181d" stroke-width="2.5" stroke-linecap="round"><line x1="579.2" y1="400.0" x2="580.3" y2="393.9"/><line x1="577.9" y1="407.9" x2="578.9" y2="401.8"/><line x1="578.6" y1="408.8" x2="582.9" y2="408.8"/></g>
<g stroke="#b9181d" stroke-width="2.5" stroke-linecap="round"><line x1="544.8" y1="416.8" x2="549.0" y2="416.8"/><line x1="542.7" y1="423.7" x2="543.7" y2="417.6"/><line x1="543.5" y1="424.6" x2="547.7" y2="424.6"/><line x1="547.4" y1="431.5" x2="548.4" y2="425.4"/><line x1="542.1" y1="432.4" x2="546.4" y2="432.4"/></g><g stroke="#b9181d" stroke-width="2.5" stroke-linecap="round"><line x1="554.0" y1="423.7" x2="555.0" y2="417.6"/><line x1="554.8" y1="424.6" x2="559.0" y2="424.6"/><line x1="552.7" y1="431.5" x2="553.7" y2="425.4"/><line x1="553.4" y1="432.4" x2="557.6" y2="432.4"/></g><g stroke="#b9181d" stroke-width="2.5" stroke-linecap="round"><line x1="564.0" y1="431.5" x2="565.0" y2="425.4"/><line x1="566.1" y1="424.6" x2="570.3" y2="424.6"/></g><g stroke="#b9181d" stroke-width="2.5" stroke-linecap="round"><line x1="578.7" y1="416.8" x2="582.9" y2="416.8"/><line x1="576.6" y1="423.7" x2="577.6" y2="417.6"/><line x1="577.4" y1="424.6" x2="581.6" y2="424.6"/><line x1="575.3" y1="431.5" x2="576.3" y2="425.4"/><line x1="576.0" y1="432.4" x2="580.2" y2="432.4"/></g>
<g stroke="#b9181d" stroke-width="2.5" stroke-linecap="round"><line x1="537.8" y1="451.5" x2="538.7" y2="446.4"/><line x1="538.5" y1="452.4" x2="542.8" y2="452.4"/><line x1="543.8" y1="451.5" x2="544.7" y2="446.4"/></g><g stroke="#b9181d" stroke-width="2.5" stroke-linecap="round"><line x1="556.9" y1="444.6" x2="557.7" y2="439.4"/><line x1="555.7" y1="451.5" x2="556.6" y2="446.4"/><line x1="550.4" y1="452.4" x2="554.6" y2="452.4"/><line x1="549.7" y1="451.5" x2="550.6" y2="446.4"/><line x1="551.6" y1="445.5" x2="555.8" y2="445.5"/></g><g stroke="#b9181d" stroke-width="2.5" stroke-linecap="round"><line x1="564.7" y1="438.6" x2="568.9" y2="438.6"/><line x1="562.8" y1="444.6" x2="563.6" y2="439.4"/><line x1="563.5" y1="445.5" x2="567.7" y2="445.5"/><line x1="561.6" y1="451.5" x2="562.5" y2="446.4"/><line x1="562.3" y1="452.4" x2="566.5" y2="452.4"/></g><g stroke="#b9181d" stroke-width="2.5" stroke-linecap="round"><line x1="576.6" y1="438.6" x2="580.8" y2="438.6"/><line x1="574.7" y1="444.6" x2="575.5" y2="439.4"/><line x1="575.4" y1="445.5" x2="579.6" y2="445.5"/><line x1="573.5" y1="451.5" x2="574.4" y2="446.4"/></g>
<g stroke="#b9181d" stroke-width="2.5" stroke-linecap="round"><line x1="637.8" y1="451.5" x2="638.6" y2="446.7"/><line x1="638.5" y1="452.4" x2="642.8" y2="452.4"/><line x1="643.8" y1="451.5" x2="644.6" y2="446.7"/></g><g stroke="#b9181d" stroke-width="2.5" stroke-linecap="round"><line x1="650.9" y1="439.2" x2="655.1" y2="439.2"/><line x1="649.0" y1="444.9" x2="649.8" y2="440.1"/><line x1="649.8" y1="445.8" x2="654.0" y2="445.8"/><line x1="647.9" y1="451.5" x2="648.7" y2="446.7"/><line x1="648.6" y1="452.4" x2="652.9" y2="452.4"/></g><g stroke="#b9181d" stroke-width="2.5" stroke-linecap="round"><line x1="658.0" y1="451.5" x2="658.8" y2="446.7"/><line x1="659.9" y1="445.8" x2="664.1" y2="445.8"/></g>
<rect x="436.5" y="349.7" width="5" height="2.6" fill="#d8d8d8"/>
<rect x="436.5" y="373.2" width="5" height="2.6" fill="#d8d8d8"/>
<rect x="436.5" y="399.7" width="5" height="2.6" fill="#d8d8d8"/>
<rect x="436.5" y="420.2" width="5" height="2.6" fill="#d8d8d8"/>
<rect x="436.5" y="441.2" width="5" height="2.6" fill="#d8d8d8"/>
<rect x="594.5" y="351.2" width="5" height="2.6" fill="#d8d8d8"/>
<rect x="594.5" y="373.7" width="5" height="2.6" fill="#d8d8d8"/>
<rect x="594.5" y="399.7" width="5" height="2.6" fill="#d8d8d8"/>
<rect x="594.5" y="422.7" width="5" height="2.6" fill="#d8d8d8"/>
<rect x="594.5" y="444.2" width="5" height="2.6" fill="#d8d8d8"/>
<rect x="673.5" y="444.5" width="5" height="2.6" fill="#d8d8d8"/>
<rect x="447" y="347.5" width="16" height="10.5" fill="#d4d4d4"/><rect x="463" y="342.5" width="13.5" height="15.5" fill="#d4d4d4"/><rect x="476.5" y="337.5" width="14" height="20.5" fill="#d4d4d4"/>
<rect x="448.5" y="349.5" width="13" height="7" fill="#bdbdbd"/><rect x="464.5" y="346.5" width="10.5" height="7" fill="#1b1817"/><rect x="478" y="341" width="11" height="10" fill="#1b1817"/>
<text x="449" y="355.5" font-family="Liberation Sans" font-size="6" font-weight="bold" fill="#1b1817" textLength="11" lengthAdjust="spacingAndGlyphs">ST1</text>
<text x="465.5" y="352.5" font-family="Liberation Sans" font-size="6" font-weight="bold" fill="#d4d4d4" textLength="8.5" lengthAdjust="spacingAndGlyphs">S2</text>
<text x="479.5" y="349" font-family="Liberation Sans" font-size="6.5" font-weight="bold" fill="#d4d4d4" textLength="8.5" lengthAdjust="spacingAndGlyphs">S3</text>
<rect x="495.8" y="340" width="3.4" height="15.5" rx="1.7" fill="#e8e8e8"/><circle cx="497.5" cy="355.9" r="3.74" fill="#e8e8e8"/>
<text x="501" y="350" font-family="Liberation Sans" font-size="10" fill="#e0e0e0" font-weight="bold" font-style="normal" text-anchor="start" textLength="12" lengthAdjust="spacingAndGlyphs" >°C</text>
<text x="446" y="381" font-family="Liberation Sans" font-size="11" fill="#e0e0e0" font-weight="bold" font-style="normal" text-anchor="start" textLength="7.5" lengthAdjust="spacingAndGlyphs" >S</text>
<path d="M463,364.5 A10.8,10.8 0 0 0 466,384.2 M476.5,364.5 A10.8,10.8 0 0 1 473.5,384.2" fill="none" stroke="#dcdcdc" stroke-width="1.7"/><polyline points="471,366 470,377 466,381" fill="none" stroke="#e0e0e0" stroke-width="1.5"/>
<text x="483.5" y="380" font-family="Liberation Sans" font-size="7.5" fill="#cfcfcf" font-weight="bold" font-style="normal" text-anchor="start" textLength="19.5" lengthAdjust="spacingAndGlyphs" >min.</text>
<text x="446" y="407" font-family="Liberation Sans" font-size="12" fill="#e4e4e4" font-weight="bold" font-style="normal" text-anchor="start" textLength="24" lengthAdjust="spacingAndGlyphs" >SET</text>
<rect x="482.9" y="391" width="3.2" height="15" rx="1.6" fill="#e8e8e8"/><circle cx="484.5" cy="406.4" r="3.5200000000000005" fill="#e8e8e8"/>
<text x="488.5" y="399.5" font-family="Liberation Sans" font-size="10" fill="#e0e0e0" font-weight="bold" font-style="normal" text-anchor="start" textLength="12" lengthAdjust="spacingAndGlyphs" >°C</text>
<g stroke="#e4e4e4" stroke-width="2"><line x1="446" y1="418" x2="470" y2="418"/><line x1="446" y1="423" x2="470" y2="423"/><line x1="454" y1="412" x2="454" y2="431"/><line x1="463" y1="412" x2="463" y2="431"/></g>
<rect x="452.5" y="418" width="3" height="11" rx="1.5" fill="#f0f0f0"/><circle cx="454" cy="429.4" r="3.3000000000000003" fill="#f0f0f0"/>
<text x="476" y="425.5" font-family="Liberation Sans" font-size="9.5" fill="#e0e0e0" font-weight="bold" font-style="normal" text-anchor="start" textLength="12.5" lengthAdjust="spacingAndGlyphs" >°C</text>
<path d="M448.5,447.0 q-2.5,-2.6 0,-5.2 q2.5,-2.6 0,-5.2" fill="none" stroke="#d8d8d8" stroke-width="1.1"/><path d="M453.0,447.0 q-2.5,-2.6 0,-5.2 q2.5,-2.6 0,-5.2" fill="none" stroke="#d8d8d8" stroke-width="1.1"/><path d="M457.5,447.0 q-2.5,-2.6 0,-5.2 q2.5,-2.6 0,-5.2" fill="none" stroke="#d8d8d8" stroke-width="1.1"/><rect x="446" y="449.0" width="14" height="2" fill="#d8d8d8"/>
<line x1="468.5" y1="437" x2="462.5" y2="451" stroke="#dcdcdc" stroke-width="1.6"/>
<g stroke="#dcdcdc" stroke-width="1.6"><line x1="472.0" y1="444.0" x2="486.0" y2="444.0"/><line x1="474.1" y1="439.1" x2="483.9" y2="448.9"/><line x1="479.0" y1="437.0" x2="479.0" y2="451.0"/><line x1="483.9" y1="439.1" x2="474.1" y2="448.9"/></g>
<text x="609" y="351.8" font-family="Liberation Sans" font-size="8.5" fill="#dadada" font-weight="bold" font-style="normal" text-anchor="start" textLength="56.5" lengthAdjust="spacingAndGlyphs" >PROGRAM</text>
<text x="609" y="362.5" font-family="Liberation Sans" font-size="8" fill="#cfcfcf" font-weight="bold" font-style="normal" text-anchor="start" textLength="69" lengthAdjust="spacingAndGlyphs" >00-01-02-03...</text>
<path d="M612,370 L617.5,370 L627.5,365.5 L627.5,386 L617.5,381 L612,381 Z" fill="#ececec"/>
<circle cx="617.5" cy="401.8" r="10.4" fill="none" stroke="#e4e4e4" stroke-width="1.6"/><path d="M617.5,393 L620,410 L615,410 Z" fill="#e4e4e4"/><path d="M613,394.5 q-3.5,7 0,14 M622,394.5 q3.5,7 0,14" fill="none" stroke="#e4e4e4" stroke-width="1.3"/>
<circle cx="634.5" cy="398" r="1.6" fill="#e0e0e0"/><circle cx="634.5" cy="408" r="1.8" fill="#e0e0e0"/>
<path d="M611,423 L611,428 Q613,433 618,433 Q622.5,432 622.5,426 L622.5,420 L620.5,420 L620.5,424 L619,419 L617,419 L617,424 L615.5,419.5 L613.5,420 L613.5,425 Z" fill="#ececec"/>
<path d="M607.5,452 L607.5,446 A8,8.5 0 0 1 623.5,446 L623.5,452" fill="none" stroke="#e8e8e8" stroke-width="1.8"/><rect x="605.5" y="449" width="4.5" height="6.5" rx="1.5" fill="#eeeeee"/><rect x="621" y="449" width="4.5" height="6.5" rx="1.5" fill="#eeeeee"/>
<circle cx="697.8" cy="445.8" r="11" fill="none" stroke="#e8e8e8" stroke-width="1.8"/><circle cx="699" cy="439.6" r="1.6" fill="#e8e8e8"/><path d="M698,443 L700.5,443 L698.5,452 L696,452 Z" fill="#e8e8e8"/>
<defs><clipPath id="a4c"><rect x="0" y="0" width="749.6" height="897"/></clipPath><clipPath id="a2c"><rect x="0" y="0" width="1100" height="644"/></clipPath></defs>
<line x1="794" y1="351.5" x2="688.8" y2="287.2" stroke="#ED7D31" stroke-width="7"/><polygon points="673,277.5 696.1,279.0 684.9,297.4" fill="#ED7D31"/>
<g clip-path="url(#a2c)"><line x1="263" y1="643.5" x2="375.6" y2="584.6" stroke="#ED7D31" stroke-width="7"/><polygon points="392,576 378.8,595.0 368.9,576.0" fill="#ED7D31"/></g>
<line x1="530.8" y1="724" x2="530.8" y2="640.0" stroke="#ED7D31" stroke-width="7"/><polygon points="530.8,621.5 541.5,642.0 520.0,642.0" fill="#ED7D31"/>
<g clip-path="url(#a4c)"><line x1="754" y1="639" x2="666.0" y2="581.6" stroke="#ED7D31" stroke-width="7"/><polygon points="650.5,571.5 673.5,573.7 661.8,591.7" fill="#ED7D31"/></g>
<rect x="795.2" y="298" width="250.39999999999986" height="96.60000000000002" fill="#fff"/><path fill-rule="evenodd" fill="#ED7D31" d="M788,290 H1053 V403.5 H788 Z M795.2,298 V394.6 H1045.6 V298 Z"/>
<rect x="57.5" y="649" width="239.8" height="154.60000000000002" fill="#fff"/><path fill-rule="evenodd" fill="#ED7D31" d="M49.7,642.2 H304.8 V810.5 H49.7 Z M57.5,649 V803.6 H297.3 V649 Z"/>
<rect x="385" y="729" width="294.79999999999995" height="123.20000000000005" fill="#fff"/><path fill-rule="evenodd" fill="#ED7D31" d="M377,722 H688 V859.5 H377 Z M385,729 V852.2 H679.8 V729 Z"/>
<rect x="758.8" y="641.6" width="212.60000000000002" height="123.0" fill="#fff"/><path fill-rule="evenodd" fill="#ED7D31" d="M752.2,633 H978 V773.5 H752.2 Z M758.8,641.6 V764.6 H971.4 V641.6 Z"/>
<text transform="translate(802.2,342.3) scale(1.0,1)" x="0" y="0" font-family="Liberation Sans" font-size="28.5" fill="#1a1a1a" textLength="234.6" lengthAdjust="spacing" stroke="#ffffff" stroke-width="0.3">Panel operatora</text>
<text transform="translate(125.0,691.0) scale(1.0,1)" x="0" y="0" font-family="Liberation Sans" font-size="28.5" fill="#1a1a1a" textLength="108.8" lengthAdjust="spacing" stroke="#ffffff" stroke-width="0.3">Wyjście</text>
<text transform="translate(72.2,734.0) scale(1.0,1)" x="0" y="0" font-family="Liberation Sans" font-size="28.5" fill="#1a1a1a" textLength="212.9" lengthAdjust="spacing" stroke="#ffffff" stroke-width="0.3">przekaźnikowe</text>
<text transform="translate(143.0,776.5) scale(1.0,1)" x="0" y="0" font-family="Liberation Sans" font-size="28.5" fill="#1a1a1a" textLength="75.0" lengthAdjust="spacing" stroke="#ffffff" stroke-width="0.3">230V</text>
<text transform="translate(471.8,770.0) scale(1.0,1)" x="0" y="0" font-family="Liberation Sans" font-size="28.5" fill="#1a1a1a" textLength="124.6" lengthAdjust="spacing" stroke="#ffffff" stroke-width="0.3">Przewód</text>
<text transform="translate(422.4,815.0) scale(1.0,1)" x="0" y="0" font-family="Liberation Sans" font-size="28.5" fill="#1a1a1a" textLength="225.0" lengthAdjust="spacing" stroke="#ffffff" stroke-width="0.3">Zasilający 230V</text>
<text transform="translate(813.8,684.0) scale(1.0,1)" x="0" y="0" font-family="Liberation Sans" font-size="28.5" fill="#1a1a1a" textLength="101.8" lengthAdjust="spacing" stroke="#ffffff" stroke-width="0.3">Czujnik</text>
<text transform="translate(772.6,729.0) scale(1.0,1)" x="0" y="0" font-family="Liberation Sans" font-size="28.5" fill="#1a1a1a" textLength="183.0" lengthAdjust="spacing" stroke="#ffffff" stroke-width="0.3">temperatury</text>
</svg></body></html>
